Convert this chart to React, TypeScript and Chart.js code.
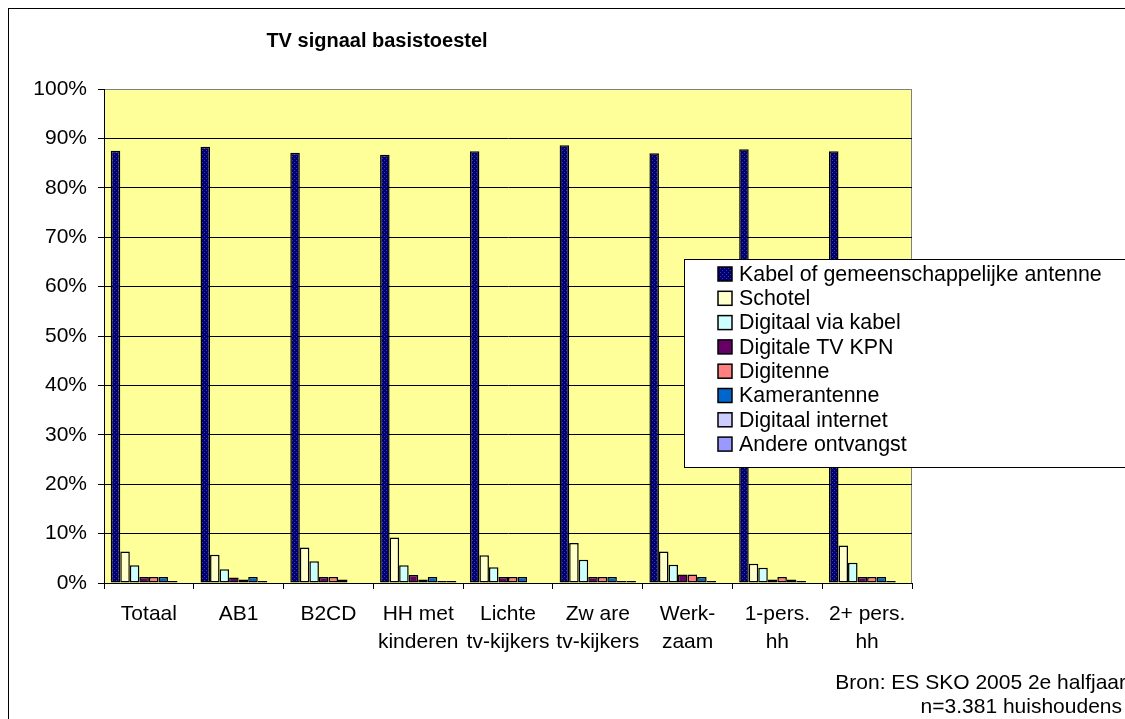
import React, { useEffect, useRef } from "react";
import { Chart, registerables } from "chart.js";

Chart.register(...registerables);

const W = 1117;
const H = 711;
const FONT = "'Liberation Sans', Arial, sans-serif";

const categories: (string | string[])[] = [
  "Totaal",
  "AB1",
  "B2CD",
  ["HH met", "kinderen"],
  ["Lichte", "tv-kijkers"],
  ["Zw are", "tv-kijkers"],
  ["Werk-", "zaam"],
  ["1-pers.", "hh"],
  ["2+ pers.", "hh"],
];

const seriesNames = [
  "Kabel of gemeenschappelijke antenne",
  "Schotel",
  "Digitaal via kabel",
  "Digitale TV KPN",
  "Digitenne",
  "Kamerantenne",
  "Digitaal internet",
  "Andere ontvangst",
];

const kabel = [87.5, 88.3, 87.1, 86.7, 87.4, 88.6, 87.0, 87.8, 87.4];
const schotel = [6.4, 5.7, 7.2, 9.2, 5.6, 8.1, 6.4, 3.9, 7.6];
const digitaalViaKabel = [3.6, 2.8, 4.4, 3.6, 3.2, 4.7, 3.7, 3.1, 4.1];
const digitaleTvKpn = [1.2, 1.1, 1.2, 1.6, 1.2, 1.2, 1.7, 0.7, 1.2];
const digitenne = [1.2, 0.7, 1.2, 0.7, 1.2, 1.2, 1.7, 1.2, 1.2];
const kamerantenne = [1.2, 1.2, 0.7, 1.2, 1.2, 1.2, 1.2, 0.7, 1.2];
const digitaalInternet = [0.4, 0.4, 0, 0.4, 0, 0.4, 0.4, 0.4, 0.4];
const andereOntvangst = [0, 0, 0, 0.4, 0, 0.4, 0, 0, 0];

const yTicks = [0, 10, 20, 30, 40, 50, 60, 70, 80, 90, 100];

const titleText = "TV signaal basistoestel";
const sourceLines = ["Bron: ES SKO 2005 2e halfjaar", "n=3.381 huishoudens"];

const seriesValues = [
  kabel,
  schotel,
  digitaalViaKabel,
  digitaleTvKpn,
  digitenne,
  kamerantenne,
  digitaalInternet,
  andereOntvangst,
];

const solidColors = [
  "#000080",
  "#FFFFCC",
  "#CCFFFF",
  "#660066",
  "#FF8080",
  "#0066CC",
  "#CCCCFF",
  "#9999FF",
];

function makePattern(): CanvasPattern | string {
  const c = document.createElement("canvas");
  c.width = 4;
  c.height = 4;
  const g = c.getContext("2d");
  if (!g) return "#000080";
  g.fillStyle = "#00006E";
  g.fillRect(0, 0, 4, 4);
  g.fillStyle = "#3A3AB8";
  g.fillRect(0, 0, 1, 1);
  g.fillRect(2, 2, 1, 1);
  const p = g.createPattern(c, "repeat");
  return p || "#000080";
}

export default function App() {
  const ref = useRef<HTMLCanvasElement | null>(null);

  useEffect(() => {
    const canvas = ref.current;
    if (!canvas) return;
    const pattern = makePattern();
    const fills: any[] = solidColors.map((c, i) => (i === 0 ? pattern : c));

    const custom = {
      id: "customDecor",
      beforeDraw(chart: any) {
        const { ctx, chartArea } = chart;
        const { left, top, right, bottom } = chartArea;
        ctx.save();
        ctx.fillStyle = "#FFFFFF";
        ctx.fillRect(0, 0, chart.width, chart.height);
        ctx.strokeStyle = "#000000";
        ctx.lineWidth = 1;
        ctx.strokeRect(0.5, 0.5, chart.width + 10, chart.height + 10);
        ctx.fillStyle = "#FFFF99";
        ctx.fillRect(left, top, right - left, bottom - top);
        ctx.strokeStyle = "#808080";
        ctx.strokeRect(left + 0.5, top + 0.5, right - left - 1, bottom - top);
        ctx.restore();
      },
      afterDraw(chart: any) {
        const { ctx } = chart;
        ctx.save();
        // Title
        ctx.fillStyle = "#000000";
        ctx.font = `bold 20px ${FONT}`;
        ctx.textAlign = "center";
        ctx.textBaseline = "alphabetic";
        ctx.fillText(titleText, 369, 39);

        // Legend box
        const lx = 676;
        const ly = 251;
        const lw = 460;
        const lh = 208;
        ctx.fillStyle = "#FFFFFF";
        ctx.fillRect(lx, ly, lw, lh);
        ctx.strokeStyle = "#000000";
        ctx.lineWidth = 1;
        ctx.strokeRect(lx + 0.5, ly + 0.5, lw, lh);
        ctx.font = `21.4px ${FONT}`;
        ctx.textAlign = "left";
        ctx.textBaseline = "middle";
        chart.data.datasets.forEach((ds: any, i: number) => {
          const cy = 266 + i * 24.3;
          const sx = 710;
          const sz = 14;
          ctx.fillStyle = ds.backgroundColor;
          ctx.fillRect(sx, cy - sz / 2, sz, sz);
          ctx.strokeStyle = "#000000";
          ctx.lineWidth = 1.5;
          ctx.strokeRect(sx, cy - sz / 2, sz, sz);
          ctx.fillStyle = "#000000";
          ctx.fillText(ds.label, 731, cy + 1);
        });

        // Source
        ctx.font = `21px ${FONT}`;
        ctx.textAlign = "right";
        ctx.textBaseline = "alphabetic";
        ctx.fillStyle = "#000000";
        ctx.fillText(sourceLines[0], 1118, 681);
        ctx.fillText(sourceLines[1], 1114, 705);
        ctx.restore();
      },
    };

    const chart = new Chart(canvas, {
      type: "bar",
      data: {
        labels: categories,
        datasets: seriesNames.map((name, i) => ({
          label: name,
          data: seriesValues[i],
          backgroundColor: fills[i],
          borderColor: "#000000",
          borderWidth: 1.5,
          borderSkipped: false,
          categoryPercentage: 0.85,
          barPercentage: 1.0,
        })),
      },
      options: {
        responsive: false,
        animation: false,
        layout: { padding: { left: 0, top: 81, right: 213, bottom: 36 } },
        plugins: {
          legend: { display: false },
          title: { display: false },
          tooltip: { enabled: false },
        },
        scales: {
          x: {
            grid: {
              display: true,
              drawOnChartArea: false,
              tickLength: 6,
              color: "#000000",
              offset: true,
            },
            border: { color: "#000000", width: 1 },
            ticks: {
              color: "#000000",
              font: { family: FONT, size: 21, lineHeight: 1.35 },
              padding: 11,
              maxRotation: 0,
              autoSkip: false,
            },
            afterFit(scale: any) {
              scale.height = 100;
            },
          },
          y: {
            min: 0,
            max: 100,
            afterBuildTicks(scale: any) {
              scale.ticks = yTicks.map((v) => ({ value: v }));
            },
            grid: {
              color: (c: any) => (c.tick && c.tick.value === 100 ? "#808080" : "#000000"),
              tickColor: "#000000",
              tickLength: 6,
              lineWidth: 1,
            },
            border: { color: "#000000", width: 1 },
            ticks: {
              color: "#000000",
              font: { family: FONT, size: 21 },
              padding: 11,
              callback: (v: any) => `${v}%`,
            },
            afterFit(scale: any) {
              scale.width = 96;
            },
          },
        },
      },
      plugins: [custom],
    });

    return () => chart.destroy();
  }, []);

  return (
    <div style={{ position: "fixed", left: 8, top: 8, width: W, height: H }}>
      <canvas ref={ref} width={W} height={H} style={{ display: "block", width: W, height: H }} />
    </div>
  );
}
